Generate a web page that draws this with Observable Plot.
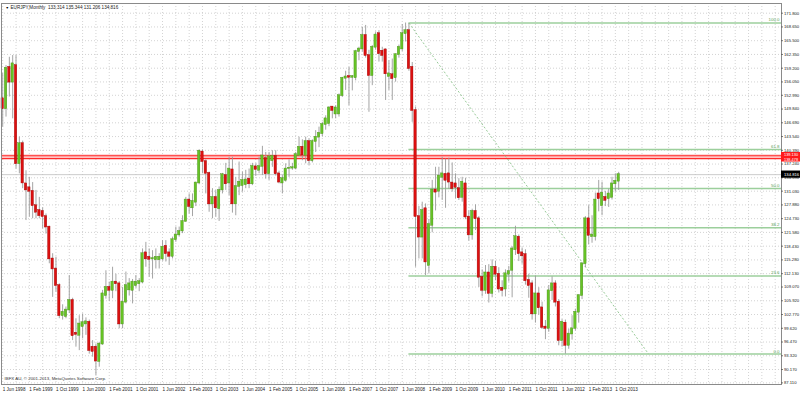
<!DOCTYPE html>
<html><head><meta charset="utf-8">
<script src="https://cdn.jsdelivr.net/npm/d3@7"></script>
<script src="https://cdn.jsdelivr.net/npm/@observablehq/plot@0.6"></script>
<style>html,body{margin:0;padding:0;background:#fff}#chart{width:800px;height:394px}</style>
</head><body><div id="chart"></div>
<script>
// EURJPY monthly bars, first bar = Jun 1998 (index 0), last = Nov 2013 (index 185)
const open = [
152.2,149.9,159.4,156.0,159.8,137.3,141.9,132.7,131.8,131.0,
127.7,126.6,126.4,125.2,122.8,115.5,113.2,109.4,102.5,102.3,
103.8,106.0,98.5,98.0,100.0,100.6,101.0,95.3,95.3,92.0,
96.0,107.1,109.0,108.3,110.2,109.8,100.6,105.6,108.4,108.3,
109.4,109.8,110.2,116.9,115.9,115.5,115.3,115.3,115.5,118.4,
116.9,116.1,119.9,121.0,121.9,124.1,129.0,127.2,128.5,132.9,
140.0,137.8,135.1,128.1,129.6,127.0,131.3,134.6,132.9,135.9,
128.1,132.1,132.3,132.5,133.8,132.7,136.6,135.8,136.7,138.5,
135.0,138.0,139.0,135.0,132.9,133.5,136.2,136.3,136.3,139.2,
141.1,139.2,142.4,138.0,142.4,143.4,144.2,146.3,146.5,150.3,
148.7,148.7,152.9,156.9,157.3,157.1,157.0,163.0,163.6,166.7,
162.1,157.5,164.0,167.1,163.1,163.4,157.3,157.7,157.0,162.3,
163.6,167.1,167.8,159.4,149.5,125.2,120.5,127.0,114.0,123.2,
131.3,131.0,134.2,134.9,135.0,132.9,132.7,131.6,129.6,132.7,
125.1,121.0,126.4,124.7,111.3,108.3,112.3,107.6,113.6,112.0,
108.8,108.6,112.0,112.9,117.6,120.5,116.9,116.5,110.6,109.8,
102.9,107.5,104.3,99.9,99.6,108.2,109.8,105.6,96.8,100.8,
95.7,98.3,99.6,103.3,107.1,114.4,124.7,120.6,120.6,130.4,
127.7,129.6,129.3,129.6,132.7,133.314];
const high = [
158.0,159.8,161.7,162.1,162.1,143.4,142.5,135.7,134.2,133.0,
131.2,129.6,127.2,125.8,123.0,116.7,115.9,109.8,105.0,104.5,
111.7,106.5,101.8,102.5,102.9,102.0,101.5,96.8,96.0,96.4,
108.3,112.8,110.2,113.6,112.0,110.3,109.0,112.5,111.0,110.8,
111.7,111.0,117.8,119.3,117.8,117.4,117.8,116.7,119.7,119.7,
117.8,120.5,122.8,122.8,125.4,129.6,130.4,130.4,133.1,140.5,
140.5,138.2,135.4,131.6,131.2,132.0,135.1,137.4,138.8,138.8,
134.2,137.7,135.4,135.8,136.1,137.4,137.3,138.8,141.3,139.9,
139.9,140.3,140.3,135.6,134.6,137.3,138.2,137.4,139.9,143.4,
142.8,143.4,143.0,142.8,144.9,145.7,146.8,148.3,150.4,150.4,
150.6,153.3,157.1,158.5,159.4,157.5,163.3,164.0,168.6,169.0,
163.3,164.4,167.5,167.8,164.0,163.6,160.9,161.3,162.5,164.5,
169.2,169.55,169.4,160.5,150.3,127.5,128.5,128.1,124.5,133.5,
136.5,136.5,138.8,138.4,138.6,137.5,135.0,133.9,134.2,134.0,
126.5,126.9,127.9,125.2,113.0,114.0,114.2,115.3,115.0,113.5,
110.5,113.0,113.8,118.3,123.0,121.0,118.0,117.6,112.0,110.5,
111.6,108.9,105.6,101.4,109.4,111.4,110.5,106.2,101.6,101.5,
99.4,102.5,104.0,107.3,114.6,125.2,127.7,125.4,130.6,133.5,
133.1,131.0,131.5,134.2,135.0,135.344];
const low = [
145.7,148.0,152.6,147.6,136.1,135.0,131.6,124.3,125.1,124.7,
124.7,124.7,122.4,121.2,114.4,106.7,107.9,101.8,101.5,101.8,
103.0,96.8,95.3,94.5,97.2,98.0,93.7,93.0,88.8,90.7,
95.7,106.3,105.8,106.4,108.0,99.5,99.5,105.2,107.0,105.2,
108.8,108.0,109.8,113.6,111.3,110.9,113.2,113.2,115.0,114.8,
114.0,115.5,119.3,120.5,121.3,123.9,125.8,125.2,127.5,132.5,
135.0,130.4,126.2,124.7,125.1,124.1,130.4,131.2,130.0,126.0,
125.4,130.0,130.8,131.6,131.6,132.3,134.4,135.0,134.6,133.8,
133.5,136.5,134.5,132.7,130.4,133.1,134.2,135.8,135.9,139.0,
138.0,137.3,136.9,137.5,139.9,141.0,143.5,145.0,145.8,147.6,
147.6,148.0,152.5,154.1,150.6,154.0,156.3,160.9,162.9,161.5,
149.1,155.2,163.3,160.6,160.6,151.8,154.1,151.8,156.0,161.5,
163.0,165.2,158.5,146.8,113.6,115.5,115.5,111.7,112.2,121.5,
126.5,129.5,128.9,127.1,131.4,130.8,129.3,128.9,128.5,124.5,
119.6,119.8,122.0,109.0,106.8,107.4,105.4,106.6,110.5,107.7,
106.8,106.8,110.2,106.6,116.3,114.9,114.3,109.5,106.5,101.5,
100.8,102.6,99.4,97.0,98.7,106.0,104.5,95.6,95.3,93.7,
94.8,96.9,99.0,100.8,106.2,113.5,118.7,119.1,119.6,126.3,
125.4,127.5,127.3,129.0,130.8,131.206];
const close = [
149.9,159.2,156.0,160.2,137.3,141.9,132.9,131.3,131.0,127.7,
126.2,125.4,125.2,122.8,115.5,113.2,109.4,102.5,103.3,103.8,
106.0,97.9,98.2,100.6,100.9,101.1,94.5,94.3,92.1,96.0,
107.5,109.0,108.3,110.2,109.8,100.6,105.6,109.4,109.8,110.2,
110.2,110.3,116.7,115.5,115.4,115.6,115.9,115.9,118.2,116.7,
116.1,119.9,121.0,121.8,124.1,129.0,127.5,128.7,132.9,140.2,
137.8,135.1,128.1,129.6,127.2,131.2,134.8,132.7,136.1,128.1,
132.1,133.1,133.5,133.6,132.7,136.7,136.0,136.7,139.1,135.0,
138.9,139.0,135.0,133.1,133.9,136.1,136.3,136.4,139.4,141.1,
139.3,142.4,138.0,142.4,143.4,144.3,146.3,147.6,150.1,149.5,
150.1,152.9,156.9,157.2,157.1,157.3,163.0,163.6,166.7,162.1,
157.5,164.0,166.8,162.5,162.1,157.9,157.9,156.8,162.3,164.0,
167.1,167.8,159.1,149.5,125.2,120.5,126.6,114.8,123.4,131.3,
130.8,134.5,135.0,133.5,133.1,131.6,131.9,129.5,133.1,125.1,
121.0,126.4,124.7,111.3,108.3,112.3,107.6,113.6,112.0,108.6,
108.3,112.1,112.6,117.8,120.6,116.7,116.2,110.5,109.4,102.9,
107.5,104.3,99.8,99.6,108.2,109.8,105.6,96.8,101.0,95.7,
98.3,99.5,103.3,107.1,114.4,124.7,120.9,121.0,129.0,129.3,
130.6,128.9,130.4,132.7,133.3,134.816];

const yTicks = [171.8,168.65,165.5,162.35,159.2,156.05,152.99,149.84,146.69,143.54,140.39,137.24,134.09,131.03,127.88,124.73,121.58,118.43,115.28,112.13,109.07,105.92,102.77,99.62,96.47,93.32,90.17,87.11];
const xTickIndex = [0,8,16,24,32,40,48,56,64,72,80,88,96,104,112,120,128,136,144,152,160,168,176,184];
const xTickLabels = ["1 Jun 1998","1 Feb 1999","1 Oct 1999","1 Jun 2000","1 Feb 2001","1 Oct 2001","1 Jun 2002","1 Feb 2003","1 Oct 2003","1 Jun 2004","1 Feb 2005","1 Oct 2005","1 Jun 2006","1 Feb 2007","1 Oct 2007","1 Jun 2008","1 Feb 2009","1 Oct 2009","1 Jun 2010","1 Feb 2011","1 Oct 2011","1 Jun 2012","1 Feb 2013","1 Oct 2013"];

const fibRatios = [0, 23.6, 38.2, 50, 61.8, 100];
const fibLabels = ["0.0","23.6","38.2","50.0","61.8","100.0"];
const fibHigh = 169.55, fibLow = 93.7, fibStartIdx = 122, fibEndIdx = 194;
const redLevels = [139.13, 138.478];
const redLabels = ["139.130", "138.478"];
const lastPrice = 134.816;
const header = "EURJPY,Monthly  133.314 135.344 131.206 134.816";
const copyright = "IBFX AU, \u00a9 2001-2013, MetaQuotes Software Corp.";

const bars = open.map((o, i) => ({i, o, h: high[i], l: low[i], c: close[i]}));
const fib = fibRatios.map((r, k) => ({p: fibLow + (fibHigh - fibLow) * r / 100, label: fibLabels[k]}));

const W = 800, H = 394, mL = 1, mR = 19, mT = 3, mB = 10;
const xDom = [-0.36, 233.9];
const yDom = [86.74, 174.02];
const pxPerUnit = (H - mB - mT) / (yDom[1] - yDom[0]);
const pxPerBar = (W - mL - mR) / (xDom[1] - xDom[0]);
const gridX = d3.range(0, 234, 4);
const FONT = "Liberation Sans, Arial, sans-serif";
const rightEdge = xDom[1];
const boxW = 19 / pxPerBar;
const redMid = (redLevels[0] + redLevels[1]) / 2;

const chart = Plot.plot({
  width: W, height: H,
  marginLeft: mL, marginRight: mR, marginTop: mT, marginBottom: mB,
  style: {fontFamily: FONT, fontSize: "5px", background: "#fff", overflow: "visible"},
  x: {domain: xDom, axis: null},
  y: {domain: yDom, axis: null},
  marks: [
    Plot.ruleY(yTicks, {stroke: "#c8c8c8", strokeDasharray: "1,2", strokeWidth: 0.8}),
    Plot.ruleX(gridX, {stroke: "#c8c8c8", strokeDasharray: "1,2", strokeWidth: 0.8}),
    // resistance band
    Plot.rect([0], {x1: xDom[0], x2: xDom[1], y1: d3.min(redLevels) - 0.2, y2: d3.max(redLevels) + 0.22, fill: "#ffc4c4"}),
    Plot.ruleY(redLevels, {stroke: "#ff2a2a", strokeWidth: 1.1}),
    Plot.ruleY([lastPrice], {stroke: "#c0c0c0", strokeWidth: 0.8}),
    // fibonacci levels
    Plot.ruleY(fib, {y: "p", x1: fibStartIdx, x2: rightEdge, stroke: "#9ccf9c", strokeWidth: 1.5}),
    Plot.text(fib, {x: rightEdge, y: "p", text: "label", dx: -2, dy: -3, textAnchor: "end", fill: "#5a9e5a", fontSize: 4.4}),
    Plot.link([0], {x1: fibStartIdx, y1: fibHigh, x2: fibEndIdx, y2: fibLow, stroke: "#8cc48c", strokeWidth: 0.9, strokeDasharray: "2,2"}),
    // candles
    Plot.ruleX(bars, {x: "i", y1: "l", y2: "h", stroke: "#9a9a9a", strokeWidth: 0.9}),
    Plot.rect(bars, {
      x1: d => d.i - 0.36, x2: d => d.i + 0.36, y1: "o", y2: "c",
      fill: d => d.c >= d.o ? "#66c425" : "#dd1010",
      stroke: d => d.c >= d.o ? "#4a8f1c" : "#a00000", strokeWidth: 0.4,
      insetTop: -0.45, insetBottom: -0.45
    }),
    Plot.frame({stroke: "#8a8a8a", strokeWidth: 1}),
    // right price axis
    Plot.ruleY(yTicks, {x1: rightEdge, x2: rightEdge + 2 / pxPerBar, stroke: "#555", strokeWidth: 0.8}),
    Plot.text(yTicks, {x: rightEdge, y: d => d, text: d => d.toFixed(3), dx: 2.5, textAnchor: "start", fill: "#222", fontSize: 4.2}),
    // red level labels, stacked in one box
    Plot.rect([redMid], {x1: rightEdge, x2: rightEdge + boxW, y1: d => d - 4.8 / pxPerUnit, y2: d => d + 4.8 / pxPerUnit, fill: "#ff1a1a"}),
    Plot.text([redLevels[0]], {x: rightEdge, y: redMid, text: () => redLabels[0], dx: 2.5, dy: -2.2, textAnchor: "start", fill: "#fff", fontSize: 3.9}),
    Plot.text([redLevels[1]], {x: rightEdge, y: redMid, text: () => redLabels[1], dx: 2.5, dy: 2.3, textAnchor: "start", fill: "#fff", fontSize: 3.9}),
    // last price label
    Plot.rect([lastPrice], {x1: rightEdge, x2: rightEdge + boxW, y1: d => d - 3.6 / pxPerUnit, y2: d => d + 3.6 / pxPerUnit, fill: "#000"}),
    Plot.text([lastPrice], {x: rightEdge, y: d => d, text: d => d.toFixed(3), dx: 2.5, textAnchor: "start", fill: "#fff", fontSize: 4.2}),
    // time axis
    Plot.text(xTickIndex, {x: d => d, y: yDom[0], text: (d, k) => xTickLabels[k], dy: 5, textAnchor: "start", fill: "#222", fontSize: 4.6}),
    // header + copyright
    Plot.text(["\u25bc"], {frameAnchor: "top-left", dx: 4, dy: 3, fill: "#000", fontSize: 3.5}),
    Plot.text([header], {frameAnchor: "top-left", dx: 9, dy: 2.5, textAnchor: "start", fill: "#222", fontSize: 4.6}),
    Plot.text([copyright], {frameAnchor: "bottom-left", dx: 3, dy: -5, textAnchor: "start", fill: "#333", fontSize: 4.4})
  ]
});
document.getElementById("chart").appendChild(chart);
</script>
</body></html>
